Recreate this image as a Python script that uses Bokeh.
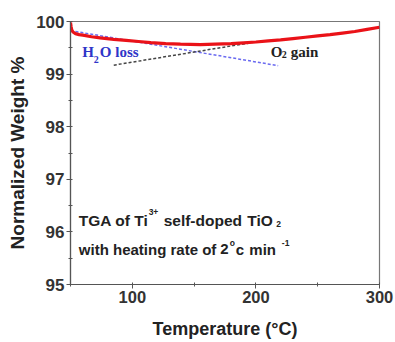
from bokeh.plotting import figure
from bokeh.models import Label, SingleIntervalTicker
from bokeh.embed import file_html
from bokeh.resources import INLINE

# --- data ---
temp = [50, 50.5, 51, 52, 54, 57, 60, 67, 74, 85, 95, 105, 115, 127, 139, 147, 155, 167,
        180, 190, 200, 210, 220, 230, 240, 250, 260, 270, 280, 290, 300]
weight = [99.98, 99.90, 99.84, 99.80, 99.77, 99.75, 99.74, 99.71, 99.69, 99.66, 99.64, 99.62,
          99.60, 99.58, 99.57, 99.565, 99.56, 99.57, 99.58, 99.595, 99.61, 99.63, 99.65, 99.675,
          99.70, 99.725, 99.75, 99.78, 99.81, 99.85, 99.89]
h2o_x = [54, 218]
h2o_y = [99.81, 99.16]
o2_x = [85, 197]
o2_y = [99.17, 99.60]
x_ticks_interval = 100
y_ticks_interval = 1
x_title = "Temperature (°C)"
y_title = "Normalized Weight %"

X0, X1 = 50, 300
Y0, Y1 = 95, 100

W, H = 395, 342
FL, FR, FT, FB = 70, 378.5, 21, 283.5
DY = -5  # label baseline correction

def px2x(px):
    return X0 + (px - FL) * (X1 - X0) / (FR - FL)

def py2y(py):
    return Y0 + (FB - py) * (Y1 - Y0) / (FB - FT)

p = figure(width=W, height=H, x_range=(X0, X1), y_range=(Y0, Y1),
           output_backend="svg", toolbar_location=None,
           min_border_left=FL, min_border_right=int(W - FR), min_border_top=FT,
           min_border_bottom=int(H - FB))
p.grid.visible = False
p.background_fill_color = "white"
p.border_fill_color = "white"
p.outline_line_color = "#777777"
p.outline_line_width = 1.2

p.xaxis.ticker = SingleIntervalTicker(interval=x_ticks_interval, num_minor_ticks=2)
p.yaxis.ticker = SingleIntervalTicker(interval=y_ticks_interval, num_minor_ticks=2)

for ax in (p.xaxis, p.yaxis):
    ax.axis_line_color = "#555555"
    ax.axis_line_width = 1.2
    ax.major_tick_line_color = "#555555"
    ax.minor_tick_line_color = "#555555"
    ax.major_tick_out = 4
    ax.major_tick_in = 0
    ax.minor_tick_out = 2
    ax.minor_tick_in = 2
    ax.major_label_text_font = "Liberation Sans"
    ax.major_label_text_font_style = "bold"
    ax.major_label_text_font_size = "17px"
    ax.major_label_text_color = "#333333"
    ax.axis_label_text_font = "Liberation Sans"
    ax.axis_label_text_font_style = "bold"
    ax.axis_label_text_color = "#222222"

p.xaxis.major_label_standoff = 2
p.yaxis.major_label_standoff = 2
p.xaxis.major_label_text_font_size = "16.5px"
p.xaxis.axis_label = x_title
p.xaxis.axis_label_text_font_size = "18px"
p.xaxis.axis_label_standoff = 13
p.yaxis.axis_label = y_title
p.yaxis.axis_label_text_font_size = "19px"
p.yaxis.axis_label_standoff = 5

# dashed guide lines
p.line(h2o_x, h2o_y, line_color="#6a6af0", line_width=1.5, line_dash="3 2")
p.line(o2_x, o2_y, line_color="#444444", line_width=1.5, line_dash="3 2")

# TGA curve
p.line(temp, weight, line_color="#ea1218", line_width=3.2)

def lab(text, px, py, size, color="#222222", font="Liberation Sans", style="bold",
        align="left", dy=DY):
    p.add_layout(Label(x=px2x(px), y=py2y(py + dy), text=text, text_font=font,
                       text_font_size=f"{size}px", text_font_style=style,
                       text_color=color, text_baseline="alphabetic", text_align=align))

# H2O loss
blue = "#2f35c8"
lab("H", 81.7, 56.7, 15, blue, "Liberation Serif")
lab("2", 93.2, 64.0, 10, blue, "Liberation Serif")
lab("O loss", 99.3, 56.7, 15, blue, "Liberation Serif")

# O2 gain
lab("O", 270.0, 56.7, 15, "#222222", "Liberation Serif")
lab("2", 281.0, 59.0, 10, "#222222", "Liberation Serif")
lab("gain", 290.0, 56.7, 15, "#222222", "Liberation Serif")

# annotation text
lab("TGA of Ti", 78.3, 225, 15.5)
lab("3+", 148, 216.5, 8.5)
lab("self-doped", 163, 225, 15.5)
lab("TiO", 246.5, 225, 15.5)
lab("2", 275.5, 228, 8.5)
lab("with heating rate of", 78.3, 253.3, 15)
lab("2", 219.5, 253.3, 15)
lab("o", 229, 247, 8.5)
lab("c", 235, 253.3, 15)
lab("min", 248.5, 253.3, 15)
lab("-1", 281, 247, 8.5)

open("out.html", "w").write(file_html(p, INLINE))
